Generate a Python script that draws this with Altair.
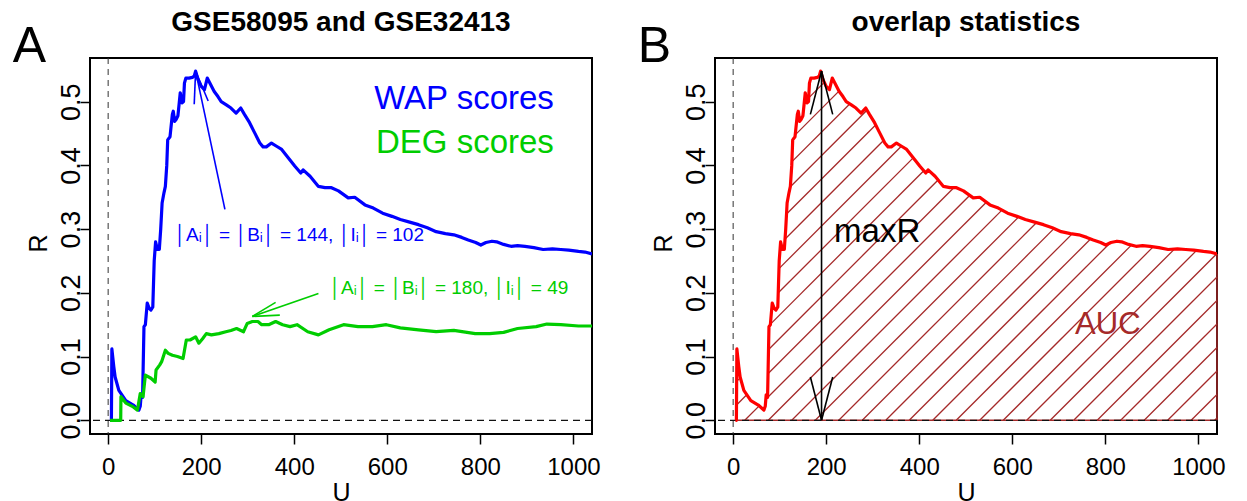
import altair as alt
import numpy as np
import pandas as pd

FONT = "Liberation Sans, Arial, Helvetica, DejaVu Sans, sans-serif"

# ---------------- data ----------------
wap_u = [5, 7, 8, 12, 15, 23, 38, 54, 66, 69,
         71, 74, 77, 80, 84, 88, 92, 96, 99, 102,
         106, 110, 113, 116, 120, 123, 126, 128, 133, 138,
         140, 143, 146, 150, 155, 159, 162, 164, 167, 174,
         181, 185, 188, 193, 200, 207, 213, 218, 228, 236,
         243, 254, 264, 275, 285, 293, 304, 315, 326, 333,
         340, 351, 362, 373, 387, 401, 414, 419, 434, 452,
         466, 480, 495, 516, 530, 552, 570, 590, 610, 628,
         648, 667, 686, 705, 725, 743, 760, 774, 790, 801,
         812, 825, 835, 850, 866, 880, 896, 915, 935, 955,
         973, 990, 1011, 1025, 1040]
wap_r = [0, 0, .112, .085, .068, .047, .031, .024, .016, .022,
         .040, .036, .147, .150, .184, .176, .173, .178, .250, .280,
         .268, .268, .300, .341, .357, .367, .400, .440, .445, .480,
         .485, .469, .472, .478, .514, .498, .500, .529, .537, .537,
         .538, .540, .548, .535, .524, .519, .537, .530, .516, .508,
         .500, .495, .490, .482, .490, .480, .467, .451, .435, .429,
         .429, .435, .430, .425, .412, .399, .388, .393, .383, .367,
         .365, .365, .360, .349, .350, .338, .333, .325, .320, .315,
         .311, .307, .302, .296, .293, .291, .287, .283, .279, .275,
         .279, .281, .280, .276, .273, .274, .273, .271, .268, .269,
         .268, .267, .265, .264, .261]

deg_u = [4, 27, 27.5, 38, 54, 63, 69, 75, 80, 92,
         101, 103, 111, 115, 123, 129, 138, 149, 161, 168,
         176, 188, 195, 203, 211, 222, 238, 253, 264, 276,
         291, 299, 310, 322, 330, 345, 360, 375, 391, 406,
         429, 452, 475, 506, 537, 568, 598, 628, 667, 705,
         743, 789, 820, 850, 880, 920, 943, 973, 1011, 1040]
deg_r = [0, 0, .037, .027, .021, .016, .042, .037, .071, .066,
         .060, .079, .087, .092, .110, .105, .102, .100, .097, .126,
         .126, .131, .121, .128, .136, .134, .136, .139, .141, .144,
         .139, .152, .155, .155, .150, .150, .155, .150, .147, .150,
         .139, .134, .142, .150, .147, .147, .150, .145, .142, .139,
         .141, .136, .136, .138, .144, .147, .151, .150, .148, .148]

x_ticks = [0, 200, 400, 600, 800, 1000]
y_ticks = [0.0, 0.1, 0.2, 0.3, 0.4, 0.5]
x_domain = [-39, 1040]
y_domain = [-0.0215, 0.5685]

# annotation segments (u, r) -> (u2, r2)
left_seg_u = [251, 188, 188, 452, 310, 310]
left_seg_r = [.331, .548, .548, .199, .163, .163]
left_seg_u2 = [188, 185, 215, 310, 360, 369]
left_seg_r2 = [.548, .496, .501, .163, .185, .165]
left_seg_col = ["#0000FF"] * 3 + ["#00CD00"] * 3

right_seg_u = [190, 190, 190, 190, 190]
right_seg_r = [0, .548, .548, 0, 0]
right_seg_u2 = [190, 166, 214, 166, 214]
right_seg_r2 = [.548, .48, .48, .068, .068]

blue_note = "\u2502A\u1d62\u2502 = \u2502B\u1d62\u2502 = 144, \u2502I\u1d62\u2502 = 102"
green_note = "\u2502A\u1d62\u2502 = \u2502B\u1d62\u2502 = 180, \u2502I\u1d62\u2502 = 49"

W, H = 502, 376

xs = alt.Scale(domain=x_domain, nice=False, zero=False)
ys = alt.Scale(domain=y_domain, nice=False, zero=False)

x_axis = alt.Axis(values=x_ticks, format="d", title="U", tickSize=10, tickWidth=1.5,
                  tickColor="black", labelFontSize=24, labelColor="black", labelFont=FONT,
                  labelPadding=11, domain=False, grid=False, titleFontSize=25,
                  titleFont=FONT, titleFontWeight="normal", titleColor="black", titleY=66,
                  titleBaseline="alphabetic")
y_axis = alt.Axis(values=y_ticks, format=".1f", title="R", tickSize=10, tickWidth=1.5,
                  tickColor="black", labelFontSize=27, labelColor="black", labelFont=FONT,
                  labelAngle=270, labelAlign="center", labelBaseline="alphabetic",
                  labelPadding=1, domain=False, grid=False, titleFontSize=25,
                  titleFont=FONT, titleFontWeight="normal", titleColor="black",
                  titleAngle=270, titleX=-44, titleY=H / 2 - 3, titleAlign="center",
                  titleBaseline="alphabetic")


def X(field):
    return alt.X(field, type="quantitative", scale=xs, axis=x_axis)


def Y(field):
    return alt.Y(field, type="quantitative", scale=ys, axis=y_axis)


def dashed_layers():
    d = pd.DataFrame({"u": [0], "r": [0]})
    v = alt.Chart(d).mark_rule(color="#333333", strokeDash=[6, 5], strokeWidth=1, clip=True).encode(x=X("u"))
    h = alt.Chart(d).mark_rule(color="#111111", strokeDash=[7, 5], strokeWidth=1.2, clip=True).encode(y=Y("r"))
    return v, h


def text_layer(rows, align, baseline, weight="normal"):
    d = pd.DataFrame(rows, columns=["u", "r", "t", "c", "s"])
    return alt.Chart(d).mark_text(align=align, baseline=baseline, font=FONT,
                                  fontWeight=weight).encode(
        x=X("u"), y=Y("r"), text="t:N",
        color=alt.Color("c:N", scale=None), size=alt.Size("s:Q", scale=None))


def line_layer(us, rs, color):
    d = pd.DataFrame({"u": us, "r": rs, "o": range(len(us))})
    return alt.Chart(d).mark_line(color=color, strokeWidth=3.2, clip=True,
                                  strokeJoin="round").encode(
        x=X("u"), y=Y("r"), order="o:Q")


def seg_layer(u, r, u2, r2, color, width=1.6):
    d = pd.DataFrame({"u": u, "r": r, "u2": u2, "r2": r2, "c": color})
    return alt.Chart(d).mark_rule(strokeWidth=width).encode(
        x=X("u"), y=Y("r"), x2="u2:Q", y2="r2:Q", color=alt.Color("c:N", scale=None))


def hatch(us, rs, spacing, slope, phase):
    us = np.asarray(us, float)
    rs = np.asarray(rs, float)
    grid = np.arange(us[0], us[-1] + 1e-9, 0.25)
    curve = np.interp(grid, us, rs)
    rows = []
    for c in np.arange(phase - 20 * spacing, us[-1], spacing):
        line = slope * (grid - c)
        inside = (line >= 0) & (line <= curve)
        idx = np.flatnonzero(inside)
        if idx.size == 0:
            continue
        splits = np.flatnonzero(np.diff(idx) > 1)
        starts = np.r_[idx[0], idx[splits + 1]]
        ends = np.r_[idx[splits], idx[-1]]
        for s, e in zip(starts, ends):
            if e > s:
                rows.append(dict(u=grid[s], r=line[s], u2=grid[e], r2=line[e]))
    return pd.DataFrame(rows)


title_common = dict(fontSize=28, fontWeight="bold", font=FONT, anchor="middle",
                    frame="group", baseline="alphabetic", offset=25, dy=62, color="black")

# ---------------- left panel ----------------
v0, h0 = dashed_layers()
left = alt.layer(
    v0, h0,
    line_layer(wap_u, wap_r, "#0000FF"),
    line_layer(deg_u, deg_r, "#00CD00"),
    seg_layer(left_seg_u, left_seg_r, left_seg_u2, left_seg_r2, left_seg_col),
    text_layer([[958, .504, "WAP scores", "#0000FF", 33],
                [958, .435, "DEG scores", "#00CD00", 33]], "right", "middle"),
    text_layer([[142, .291, blue_note, "#0000FF", 19],
                [475, .207, green_note, "#00CD00", 19]], "left", "middle"),
    text_layer([[-205, .5628, "A", "black", 50]], "left", "alphabetic"),
).properties(width=W, height=H,
             title=alt.TitleParams("GSE58095 and GSE32413", **title_common))

# ---------------- right panel ----------------
slope = (W / (x_domain[1] - x_domain[0])) / (H / (y_domain[1] - y_domain[0]))
hd = hatch(wap_u, wap_r, 50.5, slope, 25)
hatch_layer = alt.Chart(hd).mark_rule(color="#A52A2A", strokeWidth=1.3).encode(
    x=X("u"), y=Y("r"), x2="u2:Q", y2="r2:Q")
edge = seg_layer([wap_u[-1], wap_u[0]], [0, 0], [wap_u[-1], wap_u[-1]], [wap_r[-1], 0],
                 ["#A52A2A", "#A52A2A"], 1.5)
v1, h1 = dashed_layers()
right = alt.layer(
    hatch_layer, edge, v1, h1,
    line_layer(wap_u, wap_r, "#FF0000"),
    seg_layer(right_seg_u, right_seg_r, right_seg_u2, right_seg_r2, ["black"] * 5, 1.6),
    text_layer([[217, .296, "maxR", "black", 33]], "left", "middle"),
    text_layer([[735, .150, "AUC", "#A52A2A", 31]], "left", "middle"),
    text_layer([[-205, .5628, "B", "black", 50]], "left", "alphabetic"),
).properties(width=W, height=H,
             title=alt.TitleParams("overlap statistics", **title_common))

chart = alt.hconcat(left, right, spacing=123, bounds="flush").properties(
    padding={"left": 11, "top": 7, "right": 5, "bottom": 0},
    background="white",
).configure_view(stroke="black", strokeWidth=2)

chart.save("out.html", embed_options={"renderer": "svg", "actions": False})
